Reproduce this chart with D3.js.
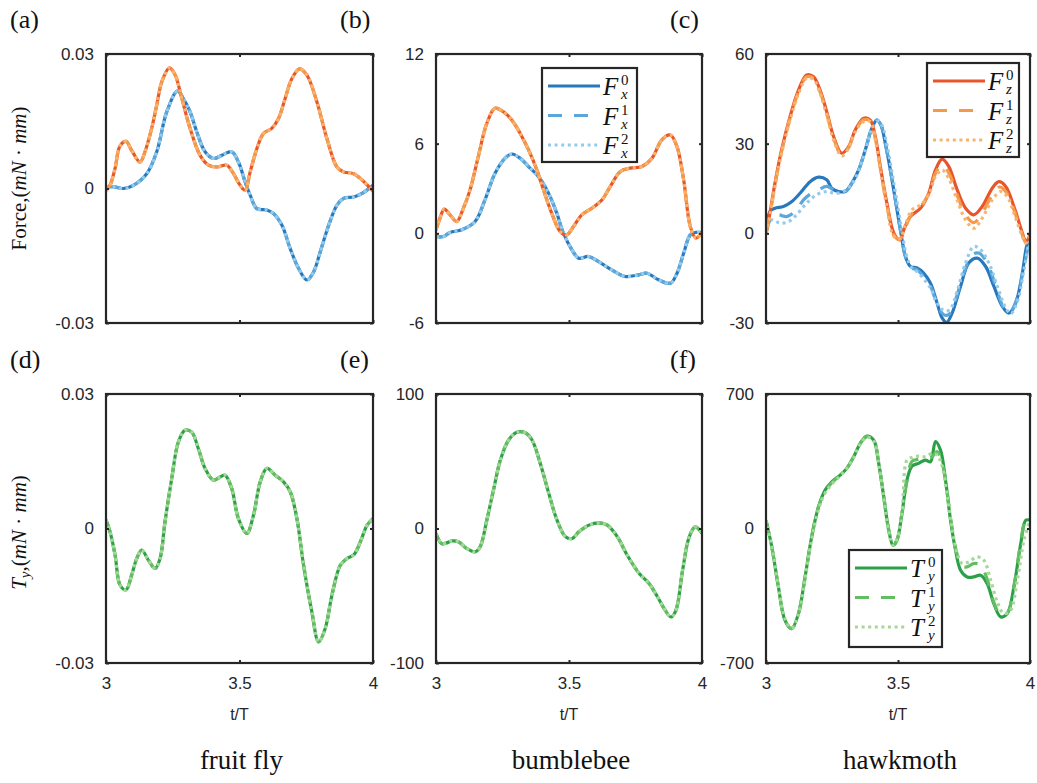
<!DOCTYPE html>
<html><head><meta charset="utf-8">
<script src="https://cdn.jsdelivr.net/npm/d3@7"></script>
<style>body{margin:0;background:#fff}svg{display:block}</style>
</head><body>
<svg id="chart" width="1037" height="783"></svg>
<script>
// ---------------- DATA ([t/T, value]) ----------------
const xTicks = [3, 3.5, 4];
const xTickLabels = ["3", "3.5", "4"];
const species = ["fruit fly", "bumblebee", "hawkmoth"];
const panelLabels = ["(a)", "(b)", "(c)", "(d)", "(e)", "(f)"];

const yTicksA = [-0.03, 0, 0.03], yTickLabelsA = ["-0.03", "0", "0.03"];
const yTicksB = [-6, 0, 6, 12], yTickLabelsB = ["-6", "0", "6", "12"];
const yTicksC = [-30, 0, 30, 60], yTickLabelsC = ["-30", "0", "30", "60"];
const yTicksD = [-0.03, 0, 0.03], yTickLabelsD = ["-0.03", "0", "0.03"];
const yTicksE = [-100, 0, 100], yTickLabelsE = ["-100", "0", "100"];
const yTicksF = [-700, 0, 700], yTickLabelsF = ["-700", "0", "700"];

// (a) fruit fly forces (three model orders overlap)
const flyFx = [[3,0.0004],[3.0275,0.0004],[3.065,0],[3.1025,0.0007],[3.1525,0.0033],[3.19,0.0082],[3.2275,0.0171],[3.2675,0.0217],[3.29,0.0200],[3.315,0.0171],[3.34,0.0126],[3.371,0.0082],[3.4025,0.0067],[3.434,0.0074],[3.471,0.0082],[3.496,0.0059],[3.521,0.0015],[3.54,-0.0015],[3.565,-0.0045],[3.6025,-0.0048],[3.6275,-0.0056],[3.659,-0.0082],[3.69,-0.0134],[3.721,-0.0178],[3.7525,-0.0204],[3.7775,-0.0186],[3.8025,-0.0141],[3.834,-0.0082],[3.865,-0.0037],[3.89,-0.0022],[3.9275,-0.0019],[3.959,-0.0011],[4,0.0007]];
const flyFz = [[3,-0.0004],[3.015,0.0007],[3.034,0.0045],[3.0525,0.0095],[3.075,0.0105],[3.096,0.0085],[3.1275,0.0059],[3.146,0.0082],[3.171,0.0134],[3.19,0.0186],[3.209,0.0238],[3.2375,0.0269],[3.259,0.0253],[3.284,0.0201],[3.315,0.0134],[3.3525,0.0074],[3.384,0.0052],[3.415,0.0048],[3.4525,0.0052],[3.4775,0.0033],[3.5025,0.0007],[3.521,-0.0004],[3.54,0.0037],[3.565,0.0089],[3.59,0.0123],[3.621,0.0134],[3.646,0.0156],[3.671,0.0201],[3.696,0.0245],[3.725,0.0267],[3.7525,0.0253],[3.79,0.0193],[3.8275,0.0111],[3.865,0.0048],[3.89,0.0037],[3.9275,0.0033],[3.959,0.0019],[4,-0.0006]];

// (b) bumblebee forces
const beeFx = [[3,-0.21],[3.028,-0.21],[3.053,0.06],[3.097,0.24],[3.147,0.79],[3.184,2.24],[3.222,4.02],[3.26,5.03],[3.285,5.31],[3.316,5.03],[3.348,4.47],[3.385,3.8],[3.423,2.69],[3.454,1.35],[3.479,0.01],[3.511,-1.1],[3.536,-1.66],[3.573,-1.55],[3.611,-1.89],[3.661,-2.45],[3.711,-2.89],[3.762,-2.78],[3.793,-2.67],[3.837,-3.11],[3.881,-3.34],[3.906,-2.67],[3.931,-1.33],[3.956,-0.1],[3.977,0.06],[4,0.06]];
const beeFz = [[3,0.24],[3.015,1.02],[3.031,1.62],[3.053,1.24],[3.078,0.79],[3.103,1.68],[3.128,2.91],[3.159,5.14],[3.191,7.36],[3.222,8.37],[3.253,8.14],[3.285,7.59],[3.316,6.7],[3.348,5.58],[3.379,4.25],[3.404,2.91],[3.435,1.35],[3.467,0.12],[3.492,-0.1],[3.517,0.46],[3.548,1.24],[3.586,1.68],[3.624,2.24],[3.655,3.13],[3.693,4.14],[3.73,4.36],[3.774,4.47],[3.812,5.03],[3.849,6.26],[3.881,6.58],[3.906,5.8],[3.931,3.58],[3.956,0.46],[3.977,-0.32],[4,0.06]];

// (c) hawkmoth forces
const mothFx0 = [[3,0],[3.015,7.3],[3.034,8.4],[3.066,9.0],[3.097,10.6],[3.129,13.4],[3.167,17.3],[3.199,18.8],[3.23,17.9],[3.249,15.1],[3.275,14.0],[3.3,14.0],[3.325,16.8],[3.351,21.2],[3.376,27.9],[3.401,35.2],[3.42,37.9],[3.435,36.3],[3.452,30.1],[3.471,21.2],[3.49,11.2],[3.509,1.2],[3.528,-7.7],[3.547,-11.1],[3.572,-11.6],[3.597,-13.3],[3.623,-16.7],[3.648,-23.3],[3.667,-28.3],[3.684,-29.8],[3.705,-26.7],[3.737,-17.7],[3.768,-9.9],[3.8,-8.3],[3.832,-11.1],[3.863,-17.7],[3.895,-24.4],[3.92,-26.7],[3.946,-23.3],[3.971,-13.3],[3.987,-4.4],[4,-1.1]];
const mothFx1 = [[3,0],[3.022,5.6],[3.047,6.2],[3.078,5.6],[3.11,7.3],[3.142,11.2],[3.167,13.1],[3.199,14.6],[3.23,15.7],[3.256,14.6],[3.281,14.0],[3.306,14.3],[3.325,16.6],[3.351,21.2],[3.376,27.9],[3.401,35.2],[3.42,37.9],[3.435,36.3],[3.452,30.1],[3.471,21.2],[3.49,11.2],[3.509,1.2],[3.528,-7.7],[3.547,-11.4],[3.572,-12.2],[3.623,-17.7],[3.648,-23.9],[3.673,-27.2],[3.692,-27.2],[3.718,-22.2],[3.749,-13.3],[3.781,-7.2],[3.806,-6.6],[3.838,-9.9],[3.87,-17.7],[3.901,-25.0],[3.924,-26.7],[3.949,-22.2],[3.975,-12.2],[4,-1.1]];
const mothFx2 = [[3,0],[3.022,4.5],[3.053,3.4],[3.085,3.9],[3.116,6.2],[3.154,10.1],[3.192,12.9],[3.23,14.0],[3.262,13.4],[3.294,14.0],[3.325,16.5],[3.351,21.0],[3.376,27.6],[3.401,35.0],[3.425,37.6],[3.44,36.0],[3.457,30.0],[3.476,21.0],[3.495,11.0],[3.514,1.0],[3.533,-7.7],[3.552,-11.6],[3.572,-12.8],[3.623,-18.3],[3.648,-23.3],[3.673,-25.8],[3.696,-25.6],[3.724,-19.4],[3.756,-9.9],[3.787,-4.4],[3.813,-5.5],[3.844,-9.9],[3.876,-17.7],[3.908,-25.0],[3.927,-26.9],[3.952,-22.8],[3.977,-12.2],[4,-1.1]];
const mothFz0 = [[3,0],[3.015,6.8],[3.034,16.8],[3.059,27.9],[3.091,39.0],[3.123,47.9],[3.154,53.0],[3.18,52.4],[3.205,47.9],[3.23,40.7],[3.256,32.4],[3.287,26.8],[3.313,29.0],[3.338,34.6],[3.37,38.5],[3.395,37.9],[3.414,32.4],[3.433,22.4],[3.458,10.1],[3.484,0.1],[3.506,-2.2],[3.522,1.2],[3.547,5.6],[3.585,8.4],[3.616,13.4],[3.642,21.2],[3.667,24.8],[3.692,22.4],[3.724,14.6],[3.756,8.4],[3.787,6.2],[3.819,9.0],[3.857,15.1],[3.882,17.3],[3.908,15.7],[3.939,9.0],[3.971,0.1],[3.984,-2.7],[4,-0.5]];
const mothFz1 = [[3,0],[3.015,6.4],[3.034,16.2],[3.059,27.3],[3.091,38.4],[3.123,47.3],[3.154,52.4],[3.18,51.9],[3.205,47.3],[3.23,40.1],[3.256,31.8],[3.287,26.3],[3.313,28.7],[3.338,34.3],[3.37,38.0],[3.395,37.6],[3.414,31.8],[3.433,21.8],[3.458,9.5],[3.484,-0.5],[3.506,-2.0],[3.527,1.8],[3.552,6.5],[3.585,8.9],[3.616,13.1],[3.642,20.1],[3.667,22.9],[3.692,20.3],[3.724,12.8],[3.756,6.2],[3.787,3.6],[3.819,6.8],[3.857,12.9],[3.885,15.5],[3.908,14.0],[3.939,7.9],[3.971,-0.5],[3.984,-3.0],[4,-0.8]];
const mothFz2 = [[3,0],[3.015,6.1],[3.034,15.7],[3.059,26.8],[3.091,37.9],[3.123,46.8],[3.154,51.9],[3.18,51.5],[3.205,46.8],[3.23,39.6],[3.256,31.3],[3.287,25.9],[3.313,28.5],[3.338,34.0],[3.37,37.4],[3.395,37.4],[3.414,31.3],[3.433,21.2],[3.458,9.0],[3.484,-1.0],[3.506,-1.9],[3.528,2.8],[3.553,7.9],[3.585,9.5],[3.616,12.9],[3.642,19.0],[3.667,21.2],[3.692,18.4],[3.724,11.2],[3.756,4.5],[3.787,1.7],[3.819,5.1],[3.857,11.2],[3.889,14.0],[3.914,12.3],[3.939,6.8],[3.971,-1.0],[3.984,-3.3],[4,-1.0]];

// (d)-(f) pitching torques
const flyTy = [[3,0.0019],[3.015,-0.0007],[3.034,-0.0059],[3.0525,-0.0126],[3.075,-0.0137],[3.096,-0.0104],[3.115,-0.0067],[3.134,-0.0048],[3.159,-0.0071],[3.184,-0.0089],[3.2025,-0.0067],[3.221,0.0015],[3.246,0.0111],[3.271,0.0193],[3.296,0.0219],[3.321,0.0215],[3.346,0.0178],[3.371,0.0134],[3.4025,0.0108],[3.4275,0.0115],[3.446,0.0119],[3.471,0.0089],[3.496,0.0022],[3.5275,-0.0011],[3.5525,0.0030],[3.5775,0.0104],[3.6025,0.0134],[3.634,0.0119],[3.665,0.0104],[3.69,0.0082],[3.715,0.0022],[3.74,-0.0082],[3.771,-0.0186],[3.796,-0.0253],[3.821,-0.0223],[3.846,-0.0149],[3.8775,-0.0082],[3.9025,-0.0067],[3.9275,-0.0059],[3.9525,-0.0030],[3.9775,0.0007],[4,0.0022]];
const beeTy = [[3,-3.7],[3.021,-11.2],[3.04,-10.7],[3.059,-9.2],[3.084,-9.9],[3.116,-14.9],[3.147,-17.4],[3.166,-13.6],[3.191,6.2],[3.216,28.5],[3.242,50.9],[3.273,65.8],[3.304,71.5],[3.336,71.2],[3.361,65.8],[3.392,48.4],[3.424,26.1],[3.455,6.2],[3.487,-6.2],[3.512,-7.4],[3.537,-2.5],[3.575,2.5],[3.613,4.2],[3.644,2.5],[3.682,-6.2],[3.719,-19.9],[3.764,-33.5],[3.801,-40.9],[3.833,-50.9],[3.858,-59.6],[3.883,-65.8],[3.902,-60.8],[3.927,-31.0],[3.952,-6.2],[3.975,1.2],[4,-3.7]];
const mothTy0 = [[3,43],[3.022,-96],[3.047,-304],[3.072,-478],[3.097,-521],[3.123,-443],[3.148,-252],[3.173,-43],[3.199,113],[3.224,200],[3.249,243],[3.281,278],[3.306,313],[3.332,373],[3.357,443],[3.382,481],[3.408,460],[3.427,339],[3.446,165],[3.465,-9],[3.481,-87],[3.496,-61],[3.515,78],[3.534,252],[3.553,325],[3.578,339],[3.604,356],[3.623,347],[3.642,452],[3.661,408],[3.68,252],[3.699,43],[3.718,-113],[3.737,-217],[3.762,-252],[3.787,-252],[3.813,-243],[3.838,-287],[3.863,-391],[3.889,-460],[3.914,-443],[3.939,-304],[3.965,-78],[3.984,43],[4,43]];
const mothTy1 = [[3,43],[3.022,-96],[3.047,-304],[3.072,-478],[3.097,-521],[3.123,-443],[3.148,-252],[3.173,-43],[3.199,113],[3.224,195],[3.249,238],[3.281,278],[3.306,313],[3.332,373],[3.357,443],[3.382,478],[3.408,458],[3.427,339],[3.446,165],[3.465,-9],[3.481,-87],[3.496,-61],[3.515,78],[3.534,248],[3.553,350],[3.578,360],[3.604,365],[3.628,372],[3.647,400],[3.666,350],[3.685,200],[3.704,10],[3.723,-130],[3.742,-195],[3.762,-200],[3.787,-182],[3.813,-190],[3.838,-265],[3.863,-385],[3.889,-450],[3.914,-440],[3.939,-300],[3.965,-75],[3.984,43],[4,43]];
const mothTy2 = [[3,43],[3.022,-96],[3.047,-300],[3.072,-470],[3.097,-518],[3.123,-445],[3.148,-260],[3.173,-55],[3.199,100],[3.224,185],[3.249,230],[3.281,275],[3.306,313],[3.332,370],[3.357,440],[3.382,475],[3.408,455],[3.427,335],[3.446,160],[3.465,-15],[3.481,-87],[3.496,-55],[3.515,80],[3.534,356],[3.553,370],[3.578,377],[3.604,373],[3.63,391],[3.649,382],[3.668,321],[3.687,165],[3.706,-9],[3.724,-130],[3.743,-182],[3.768,-174],[3.8,-148],[3.825,-165],[3.851,-269],[3.876,-382],[3.901,-443],[3.926,-426],[3.952,-269],[3.977,-61],[4,43]];

// ---------------- STYLE ----------------
const C = {
  b0: "#2878be", b1: "#5ca7d9", b2: "#93cbec",
  o0: "#e8552a", o1: "#f5984a", o2: "#f8b36e",
  g0: "#2ca048", g1: "#63bd63", g2: "#a3d896"
};
const dashes = [null, "14,12", "3,3.6"];

const panels = [
  {label: panelLabels[0], col: 0, row: 0, dom: [-0.03, 0.03], ticks: yTicksA, tl: yTickLabelsA,
   series: [[flyFx, C.b0, 0], [flyFx, C.b1, 1], [flyFx, C.b2, 2], [flyFz, C.o0, 0], [flyFz, C.o1, 1], [flyFz, C.o2, 2]]},
  {label: panelLabels[1], col: 1, row: 0, dom: [-6, 12], ticks: yTicksB, tl: yTickLabelsB,
   series: [[beeFx, C.b0, 0], [beeFx, C.b1, 1], [beeFx, C.b2, 2], [beeFz, C.o0, 0], [beeFz, C.o1, 1], [beeFz, C.o2, 2]],
   legend: {x: 542, y: 68, w: 95, h: 94, sym: "F", sub: "x", cols: [C.b0, C.b1, C.b2]}},
  {label: panelLabels[2], col: 2, row: 0, dom: [-30, 60], ticks: yTicksC, tl: yTickLabelsC,
   series: [[mothFx0, C.b0, 0], [mothFx1, C.b1, 1], [mothFx2, C.b2, 2], [mothFz0, C.o0, 0], [mothFz1, C.o1, 1], [mothFz2, C.o2, 2]],
   legend: {x: 927, y: 63, w: 92, h: 94, sym: "F", sub: "z", cols: [C.o0, C.o1, C.o2]}},
  {label: panelLabels[3], col: 0, row: 1, dom: [-0.03, 0.03], ticks: yTicksD, tl: yTickLabelsD,
   series: [[flyTy, C.g0, 0], [flyTy, C.g1, 1], [flyTy, C.g2, 2]]},
  {label: panelLabels[4], col: 1, row: 1, dom: [-100, 100], ticks: yTicksE, tl: yTickLabelsE,
   series: [[beeTy, C.g0, 0], [beeTy, C.g1, 1], [beeTy, C.g2, 2]]},
  {label: panelLabels[5], col: 2, row: 1, dom: [-700, 700], ticks: yTicksF, tl: yTickLabelsF,
   series: [[mothTy0, C.g0, 0], [mothTy1, C.g1, 1], [mothTy2, C.g2, 2]],
   legend: {x: 849, y: 550, w: 93, h: 97, sym: "T", sub: "y", cols: [C.g0, C.g1, C.g2]}}
];

const colX = [106, 436, 766], colW = [267, 266, 264];
const rowY = [54, 394], H = 269;
const svg = d3.select("#chart");
const axisCol = "#262626";
const sans = "'Liberation Sans', Arial, sans-serif";
const serif = "'Liberation Serif', 'Times New Roman', serif";

panels.forEach((p, i) => {
  const x0 = colX[p.col], y0 = rowY[p.row], w = colW[p.col];
  const x = d3.scaleLinear().domain([3, 4]).range([x0, x0 + w]);
  const y = d3.scaleLinear().domain(p.dom).range([y0 + H, y0]);
  const g = svg.append("g");
  const clipId = "clip" + i;
  svg.append("clipPath").attr("id", clipId).append("rect")
    .attr("x", x0).attr("y", y0 - 2).attr("width", w).attr("height", H + 4);

  const line = d3.line().x(d => x(d[0])).y(d => y(d[1])).curve(d3.curveCatmullRom.alpha(0.5));
  const lg = g.append("g").attr("clip-path", `url(#${clipId})`);
  p.series.forEach(([data, col, k]) => {
    lg.append("path").datum(data).attr("d", line)
      .attr("fill", "none").attr("stroke", col).attr("stroke-width", 3.2)
      .attr("stroke-dasharray", dashes[k]).attr("stroke-linejoin", "round");
  });

  // inward ticks on all sides
  const tickLen = 3;
  const axL = d3.axisLeft(y).tickValues(p.ticks).tickSize(-tickLen).tickPadding(12)
    .tickFormat((d, j) => p.tl[j]);
  const gl = g.append("g").attr("transform", `translate(${x0},0)`).call(axL);
  const axR = d3.axisRight(y).tickValues(p.ticks).tickSize(-tickLen).tickFormat("");
  const gr = g.append("g").attr("transform", `translate(${x0 + w},0)`).call(axR);
  const axB = d3.axisBottom(x).tickValues(xTicks).tickSize(-tickLen).tickPadding(14)
    .tickFormat((d, j) => p.row === 1 ? xTickLabels[j] : "");
  const gb = g.append("g").attr("transform", `translate(0,${y0 + H})`).call(axB);
  const axT = d3.axisTop(x).tickValues(xTicks).tickSize(-tickLen).tickFormat("");
  const gt = g.append("g").attr("transform", `translate(0,${y0})`).call(axT);
  [gl, gr, gb, gt].forEach(a => {
    a.select(".domain").remove();
    a.selectAll(".tick line").attr("stroke", axisCol).attr("stroke-width", 2);
    a.selectAll(".tick text").attr("fill", "#262626").style("font-family", sans).style("font-size", "17px");
  });
  g.append("rect").attr("x", x0).attr("y", y0).attr("width", w).attr("height", H)
    .attr("fill", "none").attr("stroke", axisCol).attr("stroke-width", 2.2);

  // panel label
  g.append("text").attr("x", x0 - 96).attr("y", y0 - 26).text(p.label)
    .style("font-family", serif).style("font-size", "26px").attr("fill", "#111");

  if (p.row === 1) {
    g.append("text").attr("x", x0 + w / 2).attr("y", y0 + H + 57).attr("text-anchor", "middle")
      .text("t/T").style("font-family", sans).style("font-size", "16px").attr("fill", "#262626");
    g.append("text").attr("x", x0 + w / 2 + 2).attr("y", y0 + H + 106).attr("text-anchor", "middle")
      .text(species[p.col]).style("font-family", serif).style("font-size", "27px").attr("fill", "#111");
  }

  if (p.legend) {
    const L = p.legend;
    const lgG = g.append("g");
    lgG.append("rect").attr("x", L.x).attr("y", L.y).attr("width", L.w).attr("height", L.h)
      .attr("fill", "#fff").attr("stroke", "#262626").attr("stroke-width", 2.2);
    [0, 1, 2].forEach(k => {
      const yy = L.y + 18 + k * 29.5;
      lgG.append("line").attr("x1", L.x + 6).attr("x2", L.x + 58).attr("y1", yy).attr("y2", yy)
        .attr("stroke", L.cols[k]).attr("stroke-width", 3.2).attr("stroke-dasharray", dashes[k]);
      lgG.append("text").attr("x", L.x + 61).attr("y", yy + 9).text(L.sym)
        .style("font-family", serif).style("font-style", "italic").style("font-size", "25px").attr("fill", "#111");
      lgG.append("text").attr("x", L.x + 79).attr("y", yy - 1).text(String(k))
        .style("font-family", serif).style("font-size", "15px").attr("fill", "#111");
      lgG.append("text").attr("x", L.x + 79).attr("y", yy + 13).text(L.sub)
        .style("font-family", serif).style("font-style", "italic").style("font-size", "15px").attr("fill", "#111");
    });
  }
});

// y-axis titles
function yTitle(cy, parts) {
  const t = svg.append("text").attr("transform", `translate(26,${cy}) rotate(-90)`)
    .attr("text-anchor", "middle").style("font-family", serif).style("font-size", "21px").attr("fill", "#111");
  parts.forEach(([s, it, extra]) => {
    const ts = t.append("tspan").text(s).style("font-style", it ? "italic" : "normal");
    if (extra) ts.attr("baseline-shift", extra.shift).style("font-size", extra.size);
  });
}
yTitle(rowY[0] + H / 2 - 10, [["Force,", false], ["(", false], ["mN", true], [" · ", false], ["mm", true], [")", false]]);
yTitle(rowY[1] + H / 2 + 4, [["T", true], ["y", true, {shift: "-25%", size: "15px"}], [",", false, {shift: "0", size: "21px"}], ["(", false], ["mN", true], [" · ", false], ["mm", true], [")", false]]);
</script>
</body></html>
